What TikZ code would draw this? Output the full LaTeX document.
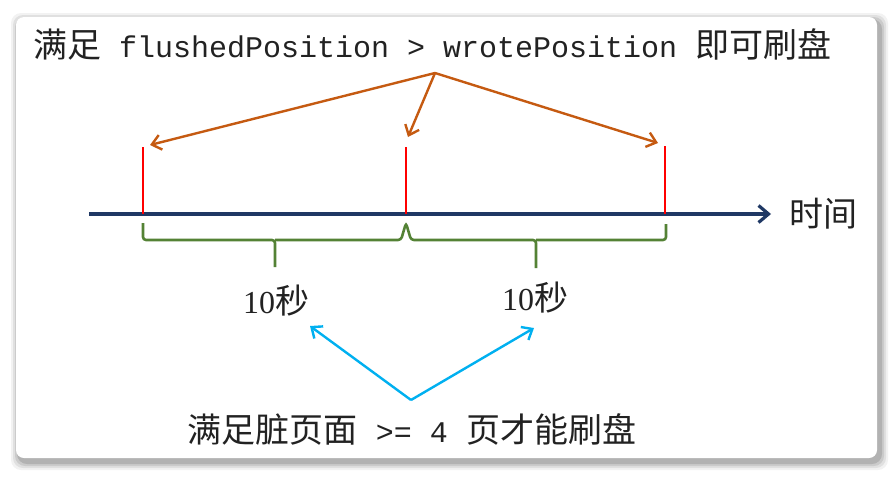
\documentclass[tikz,border=0pt]{standalone}
\usepackage{fontspec}
\setmainfont{Liberation Serif}
\setmonofont{Liberation Mono}
\newfontfamily\cjk{Noto Sans CJK SC}
\usetikzlibrary{arrows.meta}
\definecolor{navy}{HTML}{1F3864}
\definecolor{orng}{HTML}{C55A11}
\definecolor{grn}{HTML}{548235}
\definecolor{sky}{HTML}{00B0F0}
\definecolor{txt}{HTML}{222222}
\tikzset{
  tick/.style={draw=red, line width=2.6pt},
  oarrow/.style={draw=orng, line width=2.4pt, -{Straight Barb[length=9pt,width=15pt,line width=2.4pt]}},
  barrow/.style={draw=sky, line width=2.4pt, -{Straight Barb[length=9pt,width=15pt,line width=2.4pt]}},
  brace/.style={draw=grn, line width=2.6pt, rounded corners=3pt},
  lbl/.style={text=txt, inner sep=0pt},
}
\newcommand{\cj}[1]{{\cjk\fontsize{34}{36}\selectfont #1}}
\newcommand{\mn}[1]{{\ttfamily\fontsize{30}{36}\selectfont #1}}
\begin{document}
\begin{tikzpicture}[x=1pt,y=-1pt]
\useasboundingbox (0,0) rectangle (896,477);
\fill[white] (0,0) rectangle (896,477);
% shadow
\foreach \i/\o in {8/0.05,6/0.07,4/0.09,2/0.12}{
  \fill[black, opacity=\o, rounded corners=10pt] (16-\i+3,17-\i+4) rectangle (877+\i+3,458+\i+4);
}
\fill[white, rounded corners=8pt] (16,17) rectangle (877,458);

% title
\node[lbl, anchor=base west] (title) at (33,57) {\cj{满足}\mn{~flushedPosition > wrotePosition~}\cj{即可刷盘}};
\coordinate (o) at (435,73);

% timeline
\coordinate (ts) at (89,214);
\coordinate (te) at (771,214);
\draw[navy, line width=3.8pt, -{Straight Barb[length=10pt,width=17pt,line width=3.2pt]}] (ts) -- (te);
\node[lbl, anchor=west] (time) at (789,214) {\cj{时间}};

% ticks
\coordinate (a0) at (143,214); \coordinate (a1) at (143,147);
\coordinate (b0) at (406,214); \coordinate (b1) at (406,147);
\coordinate (c0) at (665,214); \coordinate (c1) at (665,146);
\draw[tick] (a0) -- (a1);
\draw[tick] (b0) -- (b1);
\draw[tick] (c0) -- (c1);

% orange arrows
\coordinate (pa) at (150,145);
\coordinate (pb) at (408,137);
\coordinate (pc) at (658,143);
\draw[oarrow] (o) -- (pa);
\draw[oarrow] (o) -- (pb);
\draw[oarrow] (o) -- (pc);

% braces
\draw[brace] (143,223) -- (143,240) -- (275,240) -- (275,267);
\draw[brace] (275,240) -- (401,240) -- (406,223) -- (411,240) -- (536,240) -- (536,268);
\draw[brace] (536,240) -- (666,240) -- (666,224);
\draw[grn, line width=2.6pt] (275,241) -- (275,267);
\draw[grn, line width=2.6pt] (536,241) -- (536,268);

% labels
\node[lbl] (l1) at (276,301) {\fontsize{32}{34}\selectfont 10\cj{秒}};
\node[lbl] (l2) at (535,298) {\fontsize{32}{34}\selectfont 10\cj{秒}};

% bottom
\node[lbl] (bot) at (412,429) {\cj{满足脏页面}\mn{~>=~4~}\cj{页才能刷盘}};
\coordinate (q) at (411,400);
\coordinate (qa) at (310,326);
\coordinate (qb) at (534,328);
\draw[barrow] (q) -- (qa);
\draw[barrow] (q) -- (qb);
\end{tikzpicture}
\end{document}
